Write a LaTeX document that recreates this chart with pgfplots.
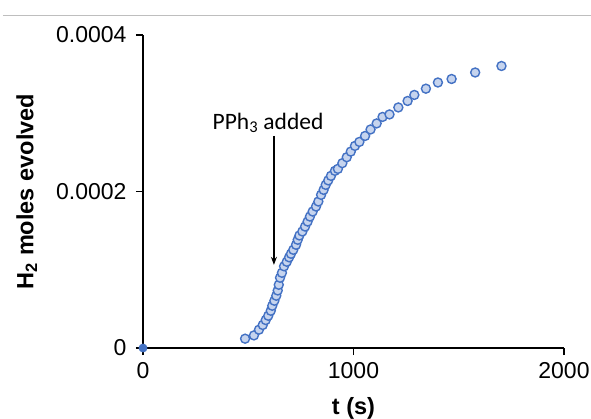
\documentclass[border=0pt]{standalone}
\usepackage{pgfplots}
\pgfplotsset{compat=1.18}
\usepackage{fontspec}
\setmainfont{Liberation Sans}
\newfontfamily\calib{Carlito}
\usetikzlibrary{arrows.meta}
\definecolor{mblue}{RGB}{68,114,196}
\definecolor{mfill}{RGB}{198,212,238}
\begin{document}
\begin{tikzpicture}
\useasboundingbox (-143pt,-70pt) rectangle (448pt,348pt);
\draw[color={rgb,255:red,190;green,190;blue,190}, line width=1.2pt] (-140pt,332.3pt) -- (448pt,332.3pt);
\begin{axis}[
  at={(0pt,0pt)}, anchor=south west,
  scale only axis, width=421pt, height=313pt,
  xmin=0, xmax=2000, ymin=0, ymax=0.0004,
  axis lines=left, axis line style={-, line width=1.3pt, black},
  tick align=outside, major tick length=7pt,
  tick style={line width=1.3pt, black},
  scaled y ticks=false, scaled x ticks=false,
  xtick={0,1000,2000}, xticklabels={0,1000,2000},
  ytick={0,0.0002,0.0004}, yticklabels={0,0.0002,0.0004},
  ticklabel style={font=\fontsize{23}{27}\selectfont},
  yticklabel style={xshift=-6pt},
  xticklabel style={yshift=-4pt},
  clip=false, axis on top,
]
\addplot[only marks, mark=*, mark size=4.5pt, mark options={draw=mblue, fill=mfill, line width=1.4pt}] coordinates {
(485,1.19e-5) (527,1.61e-5) (551,2.34e-5) (569,2.94e-5) (583,3.57e-5)
(595,4.12e-5) (607,4.76e-5) (614,5.40e-5) (624,6.04e-5) (633,6.68e-5)
(640,7.35e-5) (645,8.08e-5) (651,8.98e-5) (660,9.61e-5) (670,1.044e-4)
(683,1.102e-4) (694,1.159e-4) (703,1.204e-4) (714,1.255e-4) (727,1.319e-4)
(735,1.383e-4) (743,1.438e-4) (757,1.489e-4) (770,1.552e-4) (782,1.616e-4)
(793,1.680e-4) (806,1.744e-4) (822,1.808e-4) (833,1.872e-4) (846,1.957e-4)
(858,2.021e-4) (868,2.085e-4) (880,2.142e-4) (893,2.200e-4) (912,2.264e-4)
(926,2.289e-4) (947,2.362e-4) (968,2.438e-4) (987,2.510e-4) (1007,2.583e-4)
(1028,2.634e-4) (1055,2.710e-4) (1081,2.793e-4) (1110,2.870e-4) (1138,2.953e-4)
(1171,2.985e-4) (1213,3.074e-4) (1257,3.157e-4) (1289,3.234e-4) (1344,3.314e-4)
(1401,3.393e-4) (1466,3.438e-4) (1578,3.521e-4) (1703,3.604e-4)
};
\addplot[only marks, mark=*, mark size=4pt, mark options={draw=mblue, fill=mblue, line width=0.8pt}] coordinates {(0,0)};
\draw[-{Stealth[length=8pt,width=6pt]}, line width=1.3pt] (axis cs:622,0.000271) -- (axis cs:622,0.0001063);
\node[anchor=base, font=\calib\fontsize{23.5}{27}\selectfont, inner sep=0pt] at (axis cs:594,0.0002796) {PPh\textsubscript{3} added};
\end{axis}
\node[anchor=base, inner sep=0pt, font=\fontsize{23.5}{27}\selectfont\bfseries] at (210.5pt,-66pt) {t (s)};
\node[anchor=base, rotate=90, inner sep=0pt, font=\fontsize{23.5}{27}\selectfont\bfseries] at (-109.5pt,156.5pt) {H\textsubscript{2} moles evolved};
\end{tikzpicture}
\end{document}
